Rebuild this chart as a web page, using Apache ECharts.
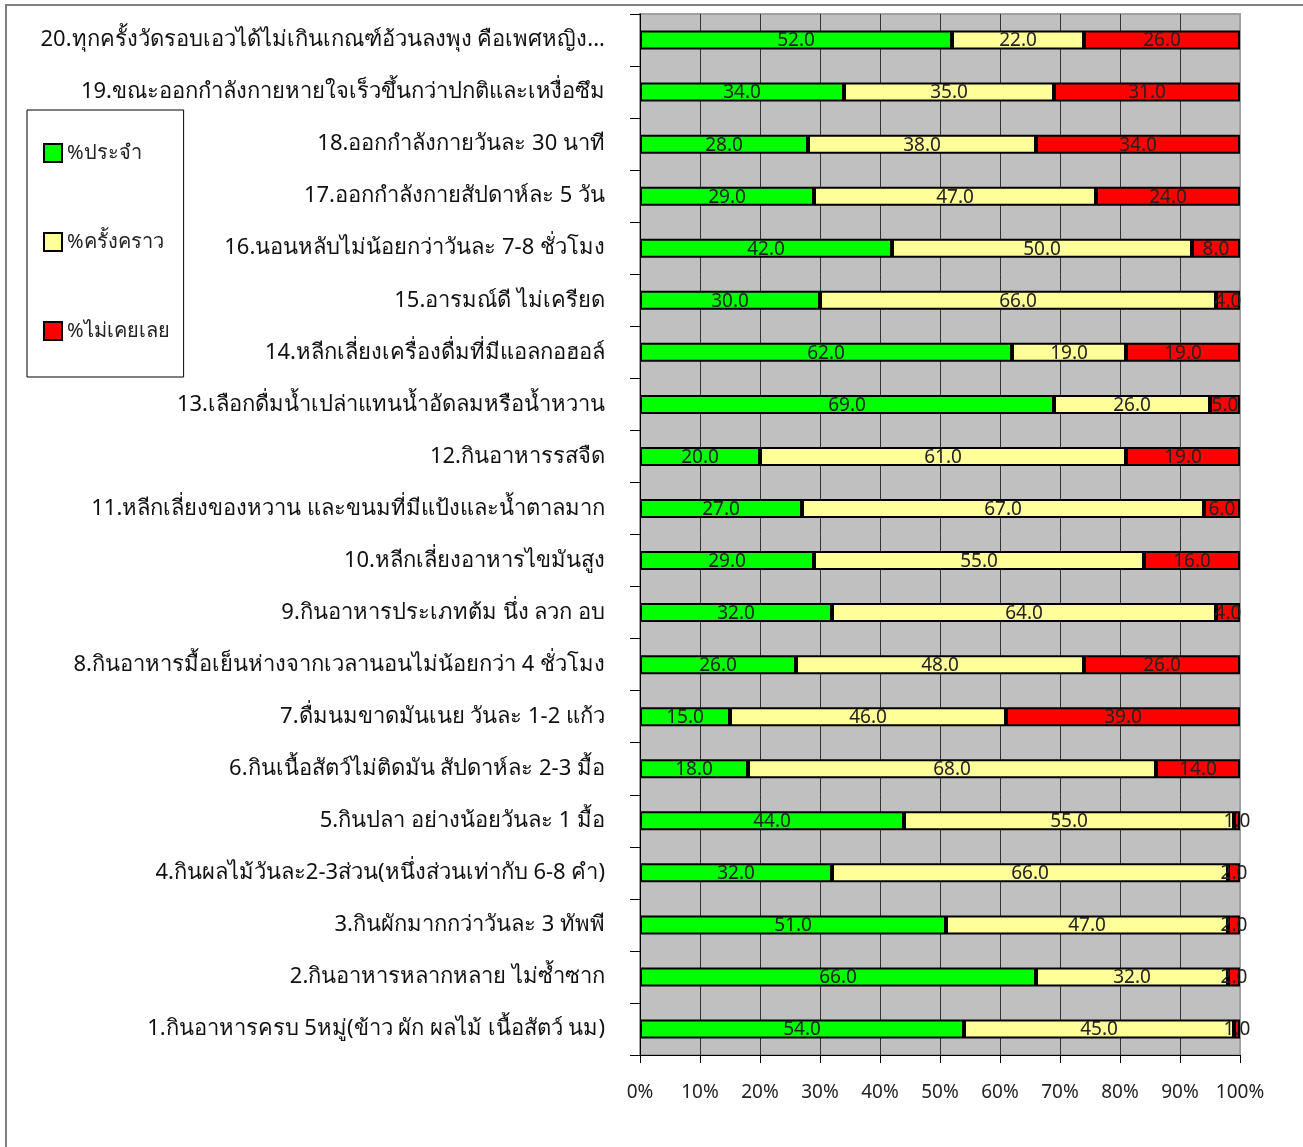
<!DOCTYPE html>
<html>
<head>
<meta charset="utf-8">
<script src="https://cdn.jsdelivr.net/npm/echarts@6/dist/echarts.min.js"></script>
<style>
    html, body {margin: 0; padding: 0; background: #fff;}
    #chart {width: 1303px; height: 1147px;}
</style>
</head>
<body>
<div id="chart"></div>
<script>
let categories = [
    '1.กินอาหารครบ 5หมู่(ข้าว ผัก ผลไม้ เนื้อสัตว์ นม)',
    '2.กินอาหารหลากหลาย ไม่ซ้ำซาก',
    '3.กินผักมากกว่าวันละ 3 ทัพพี',
    '4.กินผลไม้วันละ2-3ส่วน(หนึ่งส่วนเท่ากับ 6-8 คำ)',
    '5.กินปลา อย่างน้อยวันละ 1 มื้อ',
    '6.กินเนื้อสัตว์ไม่ติดมัน สัปดาห์ละ 2-3 มื้อ',
    '7.ดื่มนมขาดมันเนย วันละ 1-2 แก้ว',
    '8.กินอาหารมื้อเย็นห่างจากเวลานอนไม่น้อยกว่า 4 ชั่วโมง',
    '9.กินอาหารประเภทต้ม นึ่ง ลวก อบ',
    '10.หลีกเลี่ยงอาหารไขมันสูง',
    '11.หลีกเลี่ยงของหวาน และขนมที่มีแป้งและน้ำตาลมาก',
    '12.กินอาหารรสจืด',
    '13.เลือกดื่มน้ำเปล่าแทนน้ำอัดลมหรือน้ำหวาน',
    '14.หลีกเลี่ยงเครื่องดื่มที่มีแอลกอฮอล์',
    '15.อารมณ์ดี ไม่เครียด',
    '16.นอนหลับไม่น้อยกว่าวันละ 7-8 ชั่วโมง',
    '17.ออกกำลังกายสัปดาห์ละ 5 วัน',
    '18.ออกกำลังกายวันละ 30 นาที',
    '19.ขณะออกกำลังกายหายใจเร็วขึ้นกว่าปกติและเหงื่อซึม',
    '20.ทุกครั้งวัดรอบเอวได้ไม่เกินเกณฑ์อ้วนลงพุง คือเพศหญิง...'
];
let seriesNames = ['%ประจำ', '%ครั้งคราว', '%ไม่เคยเลย'];
let regular = [54, 66, 51, 32, 44, 18, 15, 26, 32, 29, 27, 20, 69, 62, 30, 42, 29, 28, 34, 52];
let sometimes = [45, 32, 47, 66, 55, 68, 46, 48, 64, 55, 67, 61, 26, 19, 66, 50, 47, 38, 35, 22];
let never = [1, 2, 2, 2, 1, 14, 39, 26, 4, 16, 6, 19, 5, 19, 4, 8, 24, 34, 31, 26];
let xTicks = [0, 10, 20, 30, 40, 50, 60, 70, 80, 90, 100];

let fontName = "Tahoma, 'Noto Sans', sans-serif";
let colors = ['#00ff00', '#ffff99', '#ff0000'];

function makeSeries(name, data, color) {
    return {
        name: name,
        type: 'bar',
        stack: 'all',
        data: data,
        barWidth: 19,
        itemStyle: {color: color, borderColor: '#000', borderWidth: 2},
        label: {
            show: true,
            position: 'inside',
            offset: [0, 1],
            color: '#222',
            fontSize: 19,
            fontFamily: fontName,
            formatter: function (p) { return p.value.toFixed(1); }
        }
    };
}

let myChart = echarts.init(document.getElementById('chart'));
let option = {
    animation: false,
    textStyle: {fontFamily: fontName},
    graphic: [{
        type: 'rect',
        shape: {x: 6, y: 5, width: 1310, height: 1160},
        style: {fill: 'none', stroke: '#808080', lineWidth: 2},
        silent: true
    }],
    legend: {
        orient: 'vertical',
        left: 27,
        top: 110,
        data: seriesNames,
        icon: 'rect',
        itemWidth: 18,
        itemHeight: 18,
        itemGap: 69,
        padding: [33, 14, 36, 16],
        borderColor: '#000',
        borderWidth: 1,
        textStyle: {fontSize: 20, color: '#222', fontFamily: fontName}
    },
    grid: {
        left: 640,
        right: 63,
        top: 14,
        bottom: 92,
        show: true,
        backgroundColor: '#c0c0c0',
        borderColor: '#a0a0a0',
        borderWidth: 2
    },
    xAxis: {
        type: 'value',
        min: xTicks[0],
        max: xTicks[xTicks.length - 1],
        interval: 10,
        axisLine: {show: true, lineStyle: {color: '#000'}},
        axisTick: {show: true, length: 8, lineStyle: {color: '#000'}},
        axisLabel: {
            margin: 28,
            fontSize: 19,
            color: '#222',
            formatter: '{value}%'
        },
        splitLine: {show: true, showMaxLine: false, lineStyle: {color: '#333', width: 1}}
    },
    yAxis: {
        type: 'category',
        data: categories,
        axisLine: {show: true, lineStyle: {color: '#000'}},
        axisTick: {show: true, length: 10, lineStyle: {color: '#000'}},
        axisLabel: {margin: 35, fontSize: 22, color: '#111'}
    },
    series: [
        makeSeries(seriesNames[0], regular, colors[0]),
        makeSeries(seriesNames[1], sometimes, colors[1]),
        makeSeries(seriesNames[2], never, colors[2])
    ]
};
myChart.setOption(option);
</script>
</body>
</html>
